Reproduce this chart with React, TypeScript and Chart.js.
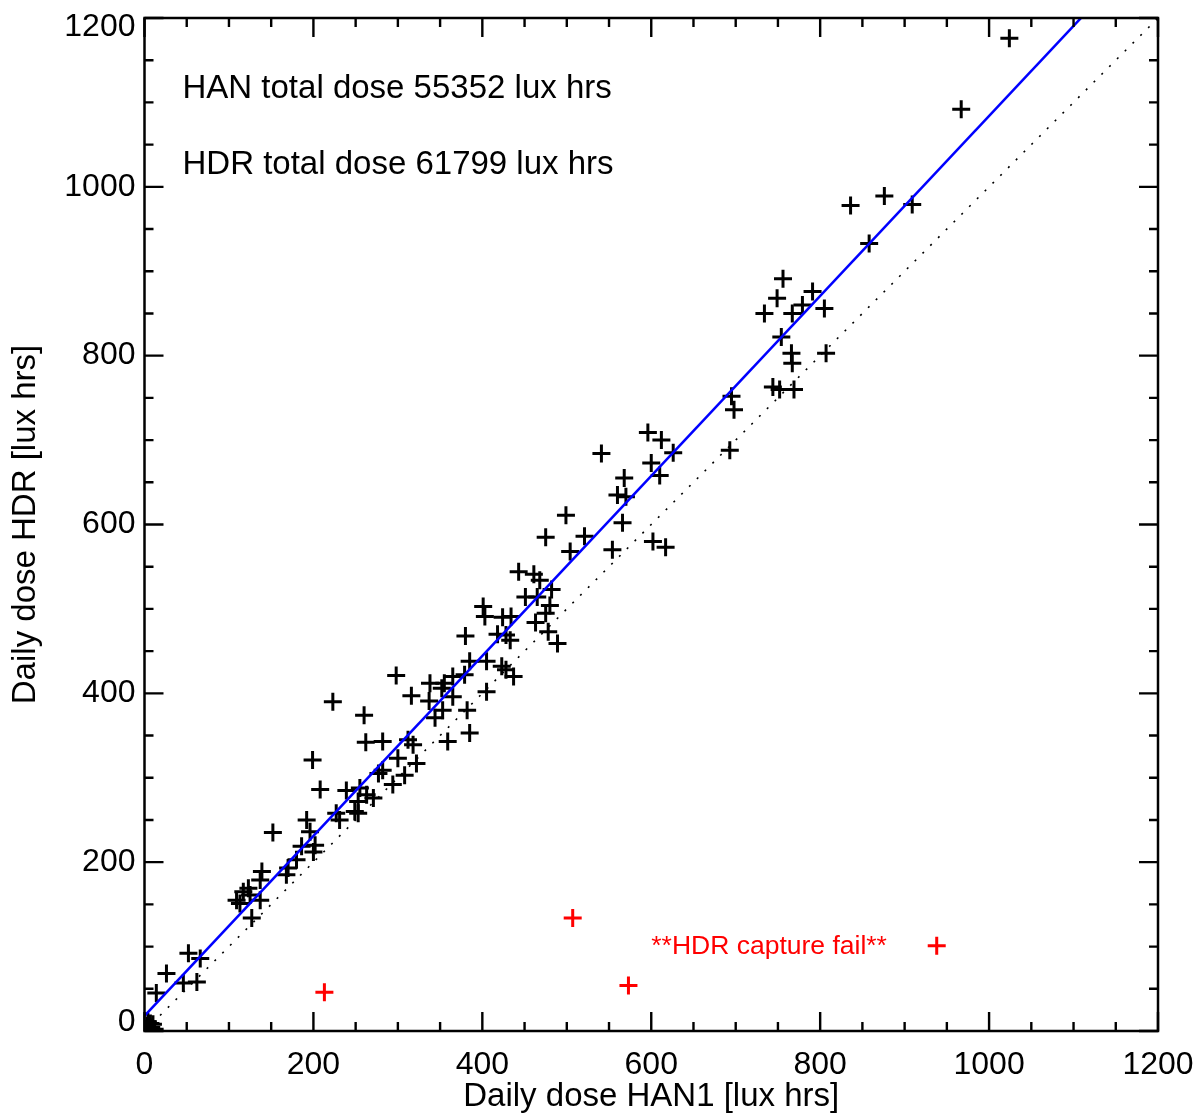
import React, { useEffect, useRef } from "react";
import { Chart, registerables } from "chart.js";

Chart.register(...registerables);

// Daily dose HAN1 (x) and HDR (y) [lux hrs] — normal days
const hanDaily = [
  1, 3, 5, 8, 10, 12, 4, 7,
  14, 26, 46, 62, 52, 66,
  109, 113, 117, 123, 125, 127, 137, 137, 139, 168, 170, 180, 152, 186, 200, 202, 192, 196,
  227, 231, 249, 253, 253, 255, 263, 271, 239, 208, 199, 223, 260, 262, 282, 277, 282, 294, 300, 308, 298,
  312, 318, 322, 316, 338, 337, 344, 352, 353, 355, 359, 365, 365, 379, 380, 382, 385, 385,
  401, 403, 405, 405, 418, 423, 424, 428, 428, 433, 434, 437, 443, 451, 461, 463, 465, 468, 475, 475, 478, 480, 482, 489, 499,
  504, 521, 541, 554, 560, 566, 568, 570, 596, 600, 602,
  610, 612, 617, 626, 693, 695, 698,
  734, 744, 749, 752, 754, 756, 766, 767, 767, 769, 779, 791,
  805, 807, 836, 858, 876, 909, 967, 1024,
];
const hdrDaily = [
  2, 6, 1, 4, 8, 2, 11, 9,
  45, 68, 57, 58, 92, 86,
  155, 151, 165, 169, 161, 134, 155, 179, 189, 185, 193, 203, 235, 219, 212, 220, 250, 236,
  258, 250, 260, 258, 272, 288, 280, 276, 285, 286, 321, 390, 374, 342, 343, 305, 309, 292, 323, 303, 421,
  345, 339, 317, 397, 412, 391, 371, 406, 380, 412, 343, 420, 396, 422, 468, 380, 353, 438,
  503, 491, 438, 402, 470, 432, 490, 469, 428, 463, 491, 420, 544, 514, 541, 484, 514, 534, 495, 585, 473, 504, 523, 459, 611,
  568, 586, 684, 570, 635, 602, 655, 633, 709, 673, 580,
  658, 700, 573, 685, 688, 752, 736,
  850, 763, 868, 760, 822, 891, 803, 791, 850, 760, 860, 876,
  856, 803, 978, 933, 989, 979, 1092, 1176,
];

// Days where the HDR capture failed
const failHan = [213, 507, 573, 938];
const failHdr = [46, 134, 54, 101];

// Linear fit HDR = a + b * HAN
const fitIntercept = 18;
const fitSlope = 1.066;

const axisMin = 0;
const axisMax = 1200;
const majorStep = 200;
const minorStep = 50;

const xTitle = "Daily dose HAN1 [lux hrs]";
const yTitle = "Daily dose HDR [lux hrs]";
const annotationLines = ["HAN total dose 55352 lux hrs", "HDR total dose 61799 lux hrs"];
const annotationX = 45;
const annotationY = [1116, 1026];
const failLabel = "**HDR capture fail**";
const failLabelX = 600;
const failLabelY = 100;

const FONT = '"Liberation Sans", Arial, Helvetica, sans-serif';

const framePlugin = {
  id: "idlFrame",
  beforeDraw(chart: any) {
    // keep the end labels of the y axis inside the frame, as IDL does
    const ys = chart.scales.y;
    const a = chart.chartArea;
    const items = ys.getLabelItems(a);
    items.forEach((it: any) => {
      const t = it.options.translation;
      t[1] = Math.min(Math.max(t[1], a.top + 9), a.bottom - 9);
    });
  },
  afterDraw(chart: any) {
    const { ctx, chartArea: a, scales } = chart;
    const xs = scales.x;
    const ys = scales.y;
    ctx.save();
    ctx.strokeStyle = "#000";
    ctx.lineWidth = 2.5;
    ctx.lineCap = "butt";
    ctx.strokeRect(a.left, a.top, a.right - a.left, a.bottom - a.top);
    ctx.lineWidth = 2.4;
    for (let v = axisMin; v <= axisMax; v += minorStep) {
      const len = v % majorStep === 0 ? 19 : 9;
      const px = xs.getPixelForValue(v);
      const py = ys.getPixelForValue(v);
      ctx.beginPath();
      ctx.moveTo(px, a.bottom);
      ctx.lineTo(px, a.bottom - len);
      ctx.moveTo(px, a.top);
      ctx.lineTo(px, a.top + len);
      ctx.moveTo(a.left, py);
      ctx.lineTo(a.left + len, py);
      ctx.moveTo(a.right, py);
      ctx.lineTo(a.right - len, py);
      ctx.stroke();
    }
    ctx.fillStyle = "#000";
    ctx.font = `33px ${FONT}`;
    ctx.textAlign = "left";
    ctx.textBaseline = "middle";
    annotationLines.forEach((t, i) => {
      ctx.fillText(t, xs.getPixelForValue(annotationX), ys.getPixelForValue(annotationY[i]));
    });
    ctx.fillStyle = "#ff0000";
    ctx.font = `26.5px ${FONT}`;
    ctx.fillText(failLabel, xs.getPixelForValue(failLabelX), ys.getPixelForValue(failLabelY));
    ctx.restore();
  },
};

export default function App() {
  const ref = useRef<HTMLCanvasElement | null>(null);

  useEffect(() => {
    if (!ref.current) return;
    const points = hanDaily.map((x, i) => ({ x, y: hdrDaily[i] }));
    const fails = failHan.map((x, i) => ({ x, y: failHdr[i] }));
    const chart = new Chart(ref.current, {
      type: "scatter",
      data: {
        datasets: [
          {
            label: "fit",
            data: [
              { x: axisMin, y: fitIntercept + fitSlope * axisMin },
              { x: axisMax, y: fitIntercept + fitSlope * axisMax },
            ],
            showLine: true,
            borderColor: "#0000ff",
            borderWidth: 2.5,
            pointRadius: 0,
            clip: 0,
            order: 0,
          },
          {
            label: "days",
            data: points,
            pointStyle: "cross",
            pointRadius: 9,
            borderWidth: 3,
            borderColor: "#000000",
            backgroundColor: "#000000",
            clip: 0,
            order: 1,
          },
          {
            label: "fail",
            data: fails,
            pointStyle: "cross",
            pointRadius: 9,
            borderWidth: 3,
            borderColor: "#ff0000",
            backgroundColor: "#ff0000",
            clip: 0,
            order: 1,
          },
          {
            label: "1:1",
            data: [
              { x: axisMin, y: axisMin },
              { x: axisMax, y: axisMax },
            ],
            showLine: true,
            borderColor: "#000000",
            borderWidth: 1.6,
            borderDash: [2, 9],
            pointRadius: 0,
            clip: 0,
            order: 2,
          },
        ],
      },
      options: {
        animation: false,
        responsive: false,
        devicePixelRatio: 1,
        layout: { padding: { top: 18, right: 42, bottom: 0, left: 0 } },
        plugins: { legend: { display: false }, tooltip: { enabled: false } },
        elements: { point: { hoverRadius: 9 } },
        scales: {
          x: {
            type: "linear",
            min: axisMin,
            max: axisMax,
            grid: { display: false, drawTicks: false },
            border: { display: false },
            ticks: {
              stepSize: majorStep,
              autoSkip: false,
              maxRotation: 0,
              padding: 15,
              color: "#000",
              font: { family: FONT, size: 32 },
              callback: (v: any) => String(v),
            },
            title: {
              display: true,
              text: xTitle,
              color: "#000",
              font: { family: FONT, size: 33 },
              padding: { top: 0, bottom: 0 },
            },
            afterFit(s: any) {
              s.height = 86;
              s.paddingLeft = 0;
              s.paddingRight = 0;
            },
          },
          y: {
            type: "linear",
            min: axisMin,
            max: axisMax,
            grid: { display: false, drawTicks: false },
            border: { display: false },
            ticks: {
              stepSize: majorStep,
              autoSkip: false,
              padding: 9,
              color: "#000",
              font: { family: FONT, size: 32, lineHeight: 1.0 },
              callback: (v: any) => String(v),
            },
            title: {
              display: true,
              text: yTitle,
              color: "#000",
              font: { family: FONT, size: 33 },
              padding: { top: 6, bottom: 0 },
            },
            afterFit(s: any) {
              s.width = 144.5;
              s.paddingTop = 0;
              s.paddingBottom = 0;
            },
          },
        },
      },
      plugins: [framePlugin],
    });
    return () => chart.destroy();
  }, []);

  return (
    <div style={{ position: "fixed", left: 0, top: 0, width: 1200, height: 1117, background: "#fff" }}>
      <canvas ref={ref} width={1200} height={1117} style={{ display: "block" }} />
    </div>
  );
}
